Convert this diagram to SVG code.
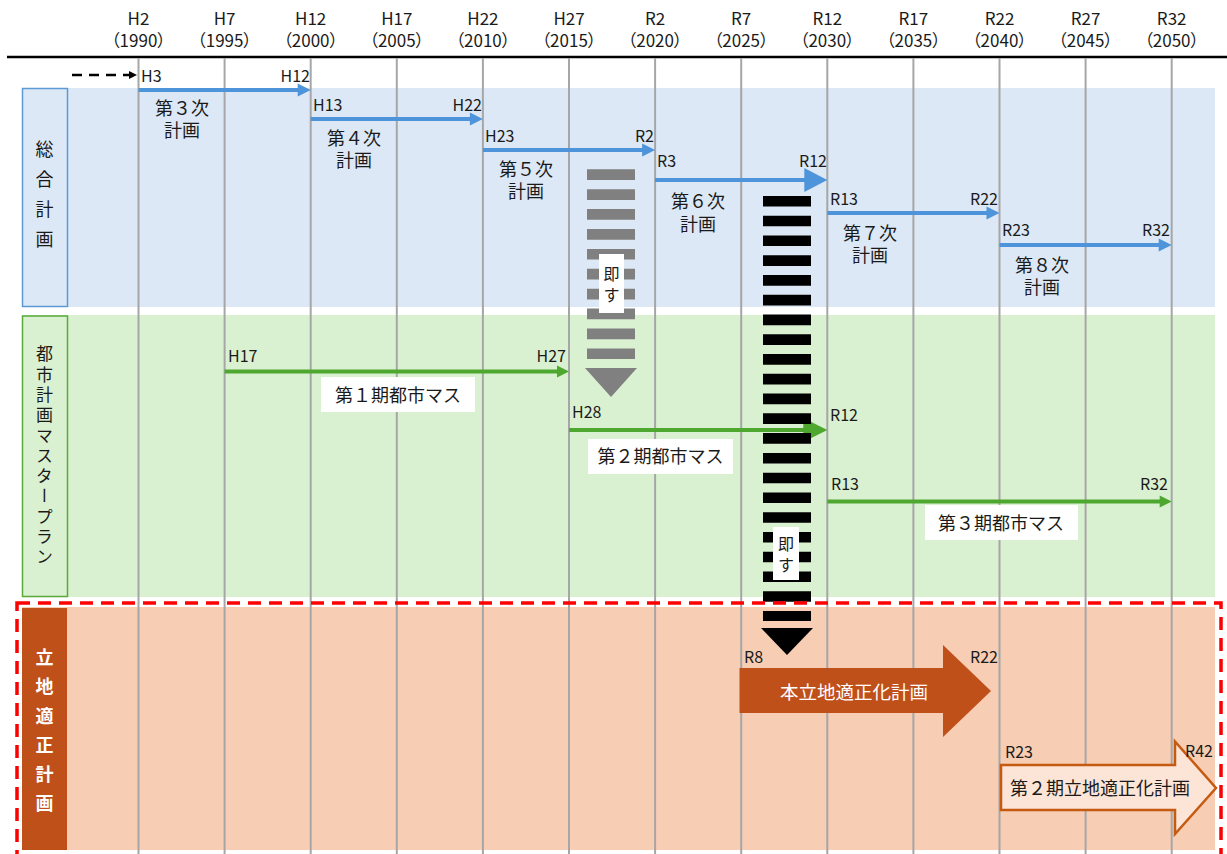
<svg xmlns="http://www.w3.org/2000/svg" width="1227" height="854" viewBox="0 0 1227 854">
<style>
text{font-family:"Noto Sans CJK JP","Noto Sans",sans-serif;fill:#1a1a1a}
.hd{font-size:17px;text-anchor:middle}
.yr{font-size:17px;text-anchor:middle;font-feature-settings:"palt"}
.lb{font-size:16px}
.end{text-anchor:end}
.pl{font-size:18px;text-anchor:middle}
.grid{stroke:#A6A6A6;stroke-width:2}
.blue{fill:#4E94DA}
.bl{stroke:#4E94DA;stroke-width:4}
.green{fill:#4EA72E}
.gl{stroke:#4EA72E;stroke-width:4}
.wbox{fill:#FFFFFF}
.vt{writing-mode:vertical-rl;text-anchor:middle}
</style>
<rect width="1227" height="854" fill="#FFFFFF"/>
<g id="bands">
<rect x="22" y="88" width="1193" height="219" fill="#DCE8F5"/>
<rect x="22" y="315" width="1193" height="282" fill="#DAF1D1"/>
<rect x="22" y="607" width="1193" height="243" fill="#F7CDB4"/>
</g>
<g id="header">
<text class="hd" x="138.5" y="25">H2</text><text class="yr" x="138.5" y="47">（1990）</text>
<text class="hd" x="224.6" y="25">H7</text><text class="yr" x="224.6" y="47">（1995）</text>
<text class="hd" x="310.7" y="25">H12</text><text class="yr" x="310.7" y="47">（2000）</text>
<text class="hd" x="396.8" y="25">H17</text><text class="yr" x="396.8" y="47">（2005）</text>
<text class="hd" x="482.9" y="25">H22</text><text class="yr" x="482.9" y="47">（2010）</text>
<text class="hd" x="569" y="25">H27</text><text class="yr" x="569" y="47">（2015）</text>
<text class="hd" x="655.1" y="25">R2</text><text class="yr" x="655.1" y="47">（2020）</text>
<text class="hd" x="741.2" y="25">R7</text><text class="yr" x="741.2" y="47">（2025）</text>
<text class="hd" x="827.3" y="25">R12</text><text class="yr" x="827.3" y="47">（2030）</text>
<text class="hd" x="913.4" y="25">R17</text><text class="yr" x="913.4" y="47">（2035）</text>
<text class="hd" x="999.5" y="25">R22</text><text class="yr" x="999.5" y="47">（2040）</text>
<text class="hd" x="1085.6" y="25">R27</text><text class="yr" x="1085.6" y="47">（2045）</text>
<text class="hd" x="1171.7" y="25">R32</text><text class="yr" x="1171.7" y="47">（2050）</text>
<line x1="7" y1="57" x2="1227" y2="57" stroke="#000000" stroke-width="2.5"/>
</g>
<g id="gridlines">
<line class="grid" x1="138.5" y1="58" x2="138.5" y2="854"/>
<line class="grid" x1="224.6" y1="58" x2="224.6" y2="854"/>
<line class="grid" x1="310.7" y1="58" x2="310.7" y2="854"/>
<line class="grid" x1="396.8" y1="58" x2="396.8" y2="854"/>
<line class="grid" x1="482.9" y1="58" x2="482.9" y2="854"/>
<line class="grid" x1="569" y1="58" x2="569" y2="854"/>
<line class="grid" x1="655.1" y1="58" x2="655.1" y2="854"/>
<line class="grid" x1="741.2" y1="58" x2="741.2" y2="854"/>
<line class="grid" x1="827.3" y1="58" x2="827.3" y2="854"/>
<line class="grid" x1="913.4" y1="58" x2="913.4" y2="854"/>
<line class="grid" x1="999.5" y1="58" x2="999.5" y2="854"/>
<line class="grid" x1="1085.6" y1="58" x2="1085.6" y2="854"/>
<line class="grid" x1="1171.7" y1="58" x2="1171.7" y2="854"/>
</g>
<g id="label-sogo">
<rect x="22.5" y="88.5" width="45" height="218" fill="#DCE8F5" stroke="#5B9BD5" stroke-width="1.5"/>
<text class="vt" x="44.5" y="200" font-size="18" letter-spacing="12">総合計画</text>
</g>
<g id="label-toshi">
<rect x="22.5" y="316" width="45" height="280.5" fill="#DAF1D1" stroke="#5AAA3A" stroke-width="1.5"/>
<text class="vt" x="44.5" y="457" font-size="17" letter-spacing="3.3">都市計画マスタープラン</text>
</g>
<g id="label-ritchi">
<rect x="22" y="608" width="45" height="242" fill="#C0501A"/>
<text class="vt" x="44.5" y="736" font-size="18" font-weight="bold" letter-spacing="11.3" style="fill:#FFFFFF">立地適正計画</text>
</g>
<g id="connectors">
<line x1="72" y1="75" x2="130" y2="75" stroke="#000000" stroke-width="2.5" stroke-dasharray="10 7"/>
<polygon points="129,71 137,75 129,79" fill="#000000"/>
<line class="bl" x1="138.5" y1="90" x2="300" y2="90"/><polygon class="blue" points="297.7,83.5 310.7,90 297.7,96.5"/>
<line class="bl" x1="310.7" y1="119" x2="472" y2="119"/><polygon class="blue" points="469.9,112.5 482.9,119 469.9,125.5"/>
<line class="bl" x1="482.9" y1="150" x2="645" y2="150"/><polygon class="blue" points="642.1,143.5 655.1,150 642.1,156.5"/>
<line class="bl" x1="655.1" y1="180" x2="806" y2="180"/><polygon class="blue" points="804.3,168 827.3,180 804.3,192"/>
<line class="bl" x1="827.3" y1="213" x2="988" y2="213"/><polygon class="blue" points="986.5,206.5 999.5,213 986.5,219.5"/>
<line class="bl" x1="999.5" y1="245" x2="1160" y2="245"/><polygon class="blue" points="1158.7,238.5 1171.7,245 1158.7,251.5"/>
<line class="gl" x1="224.6" y1="371.5" x2="560" y2="371.5"/><polygon class="green" points="557,365.5 569,371.5 557,377.5"/>
<line class="gl" x1="569" y1="430" x2="806" y2="430"/><polygon class="green" points="803.3,418 827.3,430 803.3,442"/>
<line class="gl" x1="827.3" y1="501.5" x2="1162" y2="501.5"/><polygon class="green" points="1159.7,495.5 1171.7,501.5 1159.7,507.5"/>
</g>
<g id="sogo-plans">
<text class="lb" x="141" y="82">H3</text><text class="lb end" x="310" y="82">H12</text>
<text class="pl" x="182" y="115">第３次</text><text class="pl" x="182" y="137">計画</text>
<text class="lb" x="313" y="111">H13</text><text class="lb end" x="482" y="111">H22</text>
<text class="pl" x="354" y="145">第４次</text><text class="pl" x="354" y="167">計画</text>
<text class="lb" x="485" y="142">H23</text><text class="lb end" x="654" y="142">R2</text>
<text class="pl" x="526" y="176">第５次</text><text class="pl" x="526" y="198">計画</text>
<text class="lb" x="657" y="167">R3</text><text class="lb end" x="827" y="167">R12</text>
<text class="pl" x="698" y="208">第６次</text><text class="pl" x="698" y="231">計画</text>
<text class="lb" x="830" y="205">R13</text><text class="lb end" x="998" y="205">R22</text>
<text class="pl" x="870" y="240">第７次</text><text class="pl" x="870" y="262">計画</text>
<text class="lb" x="1002" y="236">R23</text><text class="lb end" x="1170" y="236">R32</text>
<text class="pl" x="1042" y="272">第８次</text><text class="pl" x="1042" y="294">計画</text>
</g>
<g id="toshi-plans">
<text class="lb" x="228" y="362">H17</text><text class="lb end" x="566" y="362">H27</text>
<rect class="wbox" x="321" y="377" width="154" height="35"/>
<text class="pl" x="398" y="402">第１期都市マス</text>
<text class="lb" x="572" y="418">H28</text><text class="lb" x="830" y="421">R12</text>
<rect class="wbox" x="588" y="439" width="145" height="35"/>
<text class="pl" x="660.5" y="463">第２期都市マス</text>
<text class="lb" x="831" y="490">R13</text><text class="lb end" x="1168" y="490">R32</text>
<rect class="wbox" x="925" y="505" width="153" height="35"/>
<text class="pl" x="1001" y="530">第３期都市マス</text>
</g>
<g id="sokusu-gray">
<line x1="611" y1="169.3" x2="611" y2="359" stroke="#808080" stroke-width="48" stroke-dasharray="10.7 9.2"/>
<polygon points="585,368 637,368 611,397" fill="#808080"/>
<rect class="wbox" x="599" y="254" width="25" height="59"/>
<text x="611.5" y="280" font-size="16" text-anchor="middle">即</text>
<text x="611.5" y="301" font-size="16" text-anchor="middle">す</text>
</g>
<g id="sokusu-black">
<line x1="787" y1="196" x2="787" y2="621" stroke="#000000" stroke-width="48" stroke-dasharray="10.6 9.16"/>
<polygon points="761,628 813,628 787,655" fill="#000000"/>
<rect class="wbox" x="773" y="527" width="26" height="53"/>
<text x="786" y="550" font-size="16" text-anchor="middle">即</text>
<text x="786" y="571" font-size="16" text-anchor="middle">す</text>
</g>
<g id="ritchi-plan-1">
<path d="M739.5,668 H943 V645 L991,691 L943,737 V713 H739.5 Z" fill="#C0501A"/>
<text x="854" y="699" font-size="18.5" text-anchor="middle" style="fill:#FFFFFF">本立地適正化計画</text>
<text class="lb" x="744" y="663">R8</text><text class="lb end" x="998" y="663">R22</text>
</g>
<g id="ritchi-plan-2">
<path d="M1001,765 H1175 V741.5 L1216,788 L1175,834 V810 H1001 Z" fill="#FCE4D6" stroke="#C55A11" stroke-width="2.5"/>
<text class="pl" x="1100" y="795">第２期立地適正化計画</text>
<text class="lb" x="1005" y="758">R23</text><text class="lb end" x="1213" y="757">R42</text>
</g>
<g id="ritchi-frame">
<rect x="17" y="603" width="1204" height="270" fill="none" stroke="#FF0000" stroke-width="3.5" stroke-dasharray="13 8"/>
</g>
</svg>
